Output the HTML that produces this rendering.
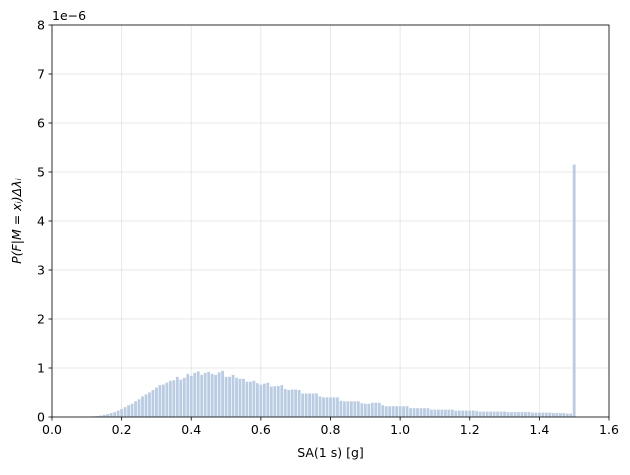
<!DOCTYPE html>
<html><head><meta charset="utf-8"><style>
body{margin:0;background:#fff;font-family:"Liberation Sans","DejaVu Sans",sans-serif}
svg text{font-family:"DejaVu Sans","Liberation Sans",sans-serif;font-size:12.5px;fill:#000}
</style></head><body>
<svg id="chart" width="630" height="470" xmlns="http://www.w3.org/2000/svg"></svg>
<script>
const binStart=0.10, binStep=0.01;
const values=[0.05,0.1,0.15,0.2,0.3,0.45,0.6,0.8,1.0,1.3,1.6,2.0,2.4,2.7,3.2,3.6,4.2,4.6,5.0,5.5,6.0,6.5,6.6,7.0,7.4,7.5,8.2,7.6,8.0,8.8,8.4,9.0,9.3,8.6,9.0,9.2,8.8,8.6,9.1,9.4,8.2,8.2,8.6,8.0,7.8,7.8,7.2,7.2,7.4,6.9,6.6,6.8,7.0,6.2,6.3,6.3,6.5,5.7,5.5,5.6,5.6,5.5,4.8,4.8,4.8,4.8,4.8,4.2,4.0,4.0,4.0,4.0,4.0,3.3,3.2,3.2,3.2,3.2,3.2,2.8,2.7,2.7,2.9,2.9,2.9,2.4,2.2,2.2,2.2,2.2,2.2,2.2,2.2,1.8,1.8,1.8,1.8,1.8,1.8,1.5,1.5,1.5,1.5,1.5,1.5,1.5,1.3,1.3,1.3,1.3,1.3,1.3,1.2,1.1,1.1,1.1,1.1,1.1,1.1,1.1,1.1,1.0,1.0,1.0,1.0,1.0,1.0,1.0,0.9,0.9,0.9,0.9,0.9,0.9,0.8,0.8,0.8,0.8,0.7,0.7];
const spikeX=[1.50];
const spikeY=[51.5];
const xTicks=[0,0.2,0.4,0.6,0.8,1.0,1.2,1.4,1.6];
const xTickLabels=["0.0","0.2","0.4","0.6","0.8","1.0","1.2","1.4","1.6"];
const yTicks=[0,1,2,3,4,5,6,7,8];
const L=52,R=609,T=25,B=417;
const sx=v=>L+(v-0)/(1.6)*(R-L);
const sy=v=>B-(v/10)/8*(B-T);
const svg=document.getElementById('chart');
const NS='http://www.w3.org/2000/svg';
function mk(t,a){const e=document.createElementNS(NS,t);for(const k in a)e.setAttribute(k,a[k]);svg.appendChild(e);return e;}
xTicks.forEach(v=>{const g=mk('line',{x1:sx(v),x2:sx(v),y1:T,y2:B,stroke:'#b0b0b0','stroke-opacity':0.35,'stroke-width':0.8});

});
yTicks.forEach(v=>{const g=mk('line',{x1:L,x2:R,y1:sy(v*10),y2:sy(v*10),stroke:'#b0b0b0','stroke-opacity':0.35,'stroke-width':0.8});

});
const bw=binStep*0.8;
values.forEach((v,i)=>{const x=binStart+i*binStep;const r=mk('rect',{x:sx(x-bw/2),y:sy(v),width:sx(bw)-sx(0),height:B-sy(v),fill:'#b9cce4'});

});
spikeX.forEach((x,i)=>{const v=spikeY[i];const r=mk('rect',{x:sx(x-bw/2),y:sy(v),width:sx(bw)-sx(0),height:B-sy(v),fill:'#b9cce4'});

});
const f=mk('rect',{x:L,y:T,width:R-L,height:B-T,fill:'none',stroke:'#000','stroke-width':0.8});


xTicks.forEach((v,i)=>{mk('line',{x1:sx(v),x2:sx(v),y1:B,y2:B+3.5,stroke:'#000','stroke-width':0.8});
const t=mk('text',{x:sx(v),y:B+17,'text-anchor':'middle'});t.textContent=xTickLabels[i];

});
yTicks.forEach(v=>{mk('line',{x1:L-3.5,x2:L,y1:sy(v*10),y2:sy(v*10),stroke:'#000','stroke-width':0.8});
const t=mk('text',{x:L-7,y:sy(v*10)+4.5,'text-anchor':'end'});t.textContent=String(v);

});
const off=mk('text',{x:L,y:T-5});off.textContent='1e−6';


const xl=mk('text',{x:(L+R)/2,y:457,'text-anchor':'middle'});xl.textContent='SA(1 s) [g]';


const yl=mk('text',{x:0,y:0,'text-anchor':'middle',transform:`translate(21,${(T+B)/2}) rotate(-90)`,'font-style':'italic'});
yl.textContent='P(F|M = xᵢ)Δλᵢ';


</script>
</body></html>
